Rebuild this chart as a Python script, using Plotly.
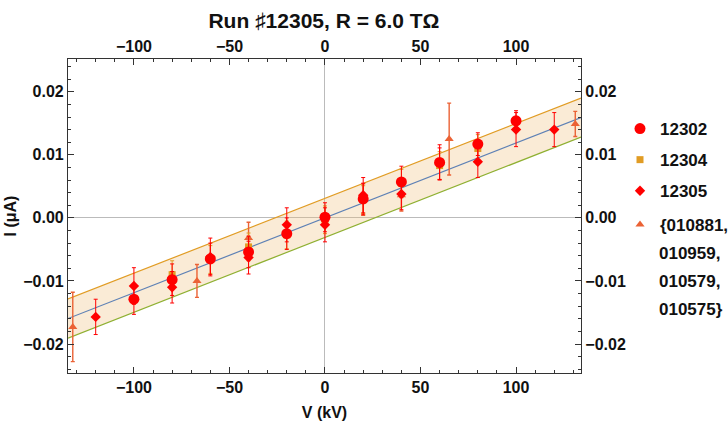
import plotly.graph_objects as go

# ---- data ----
v_12302 = [-100, -80, -60, -40, -20, 0, 20, 40, 60, 80, 100]
i_12302 = [-0.0129, -0.0098, -0.0065, -0.0054, -0.0025, 0.0001, 0.0030, 0.0057, 0.0088, 0.0117, 0.0154]
e_12302 = [0.0024, 0.0025, 0.0025, 0.0025, 0.0025, 0.0023, 0.0025, 0.0025, 0.0028, 0.0018, 0.0016]

v_12304 = [-80, -60, -40, -20, 0, 20, 40, 60, 80]
i_12304 = [-0.0090, -0.0066, -0.0046, -0.0027, -0.0003, 0.0029, 0.0055, 0.0083, 0.0110]
e_12304 = [0.0022, 0.0022, 0.0022, 0.0022, 0.0022, 0.0022, 0.0022, 0.0022, 0.0022]

v_12305 = [-120, -100, -80, -60, -40, -20, 0, 20, 40, 60, 80, 100, 120]
i_12305 = [-0.0157, -0.0108, -0.0110, -0.0062, -0.0063, -0.0011, -0.0011, 0.0036, 0.0038, 0.0086, 0.0089, 0.0140, 0.0140]
e_12305 = [0.0028, 0.0029, 0.0025, 0.0030, 0.0026, 0.0027, 0.0027, 0.0028, 0.0025, 0.0025, 0.0025, 0.0027, 0.0027]

v_old = [-132, -67, -40, 20, 40, 65, 131]
i_old = [-0.0173, -0.0100, -0.0032, 0.0029, 0.0036, 0.0125, 0.0149]
e_old = [0.0055, 0.0026, 0.0025, 0.0025, 0.0025, 0.0057, 0.0020]

fit_v = [-134.5, 134.0]
fit_slope = 0.0001187
fit_icpt = 0.0
band_halfwidth = 0.0031

x_range = [-134.5, 134.0]
y_range = [-0.0246, 0.0252]

names = ["12302", "12304", "12305", "{010881,"]
name_cont = ["010959,", "010579,", "010575}"]

BLUE = "#5E81B5"
ORANGE = "#E19C24"
GREEN = "#8FB032"
REDOR = "#EB6235"
RED = "#FF0000"

fit_i = [fit_slope * v + fit_icpt for v in fit_v]
up_i = [y + band_halfwidth for y in fit_i]
lo_i = [y - band_halfwidth for y in fit_i]

fig = go.Figure()

fig.add_trace(go.Scatter(x=fit_v, y=lo_i, mode="lines", line=dict(color=GREEN, width=1.2),
                         showlegend=False, hoverinfo="skip"))
fig.add_trace(go.Scatter(x=fit_v, y=up_i, mode="lines", line=dict(color=ORANGE, width=1.2),
                         fill="tonexty", fillcolor="rgba(240,190,120,0.30)",
                         showlegend=False, hoverinfo="skip"))
fig.add_trace(go.Scatter(x=fit_v, y=fit_i, mode="lines", line=dict(color=BLUE, width=1.2),
                         showlegend=False, hoverinfo="skip"))

fig.add_trace(go.Scatter(x=v_old, y=i_old, mode="markers", name=names[3], legend="legend2",
                         marker=dict(symbol="triangle-up", size=8, color=REDOR),
                         error_y=dict(type="data", array=e_old, color=REDOR, thickness=1.4, width=2)))
fig.add_trace(go.Scatter(x=v_12304, y=i_12304, mode="markers", name=names[1], legendgroup="b", legendrank=2,
                         marker=dict(symbol="square", size=7, color=ORANGE),
                         error_y=dict(type="data", array=e_12304, color=ORANGE, thickness=1, width=2)))
fig.add_trace(go.Scatter(x=v_12302, y=i_12302, mode="markers", name=names[0], legendgroup="a", legendrank=1,
                         marker=dict(symbol="circle", size=11, color=RED),
                         error_y=dict(type="data", array=e_12302, color=RED, thickness=1, width=2)))
fig.add_trace(go.Scatter(x=v_12305, y=i_12305, mode="markers", name=names[2], legendgroup="c", legendrank=3,
                         marker=dict(symbol="diamond", size=8, color=RED),
                         error_y=dict(type="data", array=e_12305, color=RED, thickness=1, width=2)))

# invisible trace for mirrored labelled axes
fig.add_trace(go.Scatter(x=x_range, y=y_range, xaxis="x2", yaxis="y2", mode="markers",
                         marker=dict(opacity=0), showlegend=False, hoverinfo="skip"))

FONT = "Liberation Sans, Arial, sans-serif"
tickfont = dict(family=FONT, size=16, color="#111", weight="bold")
frame = "#333"

common_x = dict(range=x_range, showgrid=False, ticks="inside", ticklen=6, tickcolor=frame,
                showline=True, linecolor=frame, linewidth=1.2, tickvals=[-100, -50, 0, 50, 100],
                minor=dict(ticks="inside", ticklen=3, dtick=10, tickcolor=frame, tick0=0),
                tickfont=tickfont, automargin=False)
common_y = dict(range=y_range, showgrid=False, ticks="inside", ticklen=6, tickcolor=frame,
                showline=True, linecolor=frame, linewidth=1.2, tickvals=[-0.02, -0.01, 0, 0.01, 0.02],
                tickformat=".2f",
                minor=dict(ticks="inside", ticklen=3, dtick=0.002, tickcolor=frame, tick0=0),
                tickfont=tickfont, automargin=False)

W, H = 728, 423
annotations = []
for k, t in enumerate(name_cont):
    annotations.append(dict(text="<b>%s</b>" % t, xref="paper", yref="paper",
                            x=(657 - 68) / 513, xanchor="left",
                            y=(373 - (253 + 28 * k)) / 314, yanchor="middle",
                            showarrow=False, font=dict(family=FONT, size=17, color="#111")))

legfont = dict(family=FONT, size=17, color="#111", weight="bold")

fig.update_layout(
    width=W, height=H,
    margin=dict(l=68, r=147, t=59, b=50),
    paper_bgcolor="white", plot_bgcolor="white",
    font=dict(family=FONT, color="#111"),
    title=dict(text="<b>Run \u266f12305, R = 6.0 T\u03a9</b>", x=0.445, xanchor="center",
               y=0.951, yanchor="middle", font=dict(size=21, color="#111")),
    xaxis=dict(**common_x, zeroline=True, zerolinecolor="#bbbbbb", zerolinewidth=1,
               title=dict(text="<b>V (kV)</b>", font=dict(size=16), standoff=11)),
    yaxis=dict(**common_y, zeroline=True, zerolinecolor="#bbbbbb", zerolinewidth=1,
               title=dict(text="<b>I (\u03bcA)</b>", font=dict(size=16), standoff=2)),
    xaxis2=dict(**common_x, overlaying="x", side="top", zeroline=False),
    yaxis2=dict(**common_y, overlaying="y", side="right", zeroline=False),
    legend=dict(xref="container", yref="container", x=620 / W, y=1 - 111 / H,
                xanchor="left", yanchor="top", font=legfont, traceorder="grouped",
                tracegroupgap=6, bgcolor="rgba(0,0,0,0)"),
    legend2=dict(xref="container", yref="container", x=620 / W, y=1 - 207 / H,
                 xanchor="left", yanchor="top", font=legfont, bgcolor="rgba(0,0,0,0)"),
    annotations=annotations,
    showlegend=True,
)

fig.write_html("out.html", config={"displayModeBar": False},
               post_script="document.body.style.margin='0';")
